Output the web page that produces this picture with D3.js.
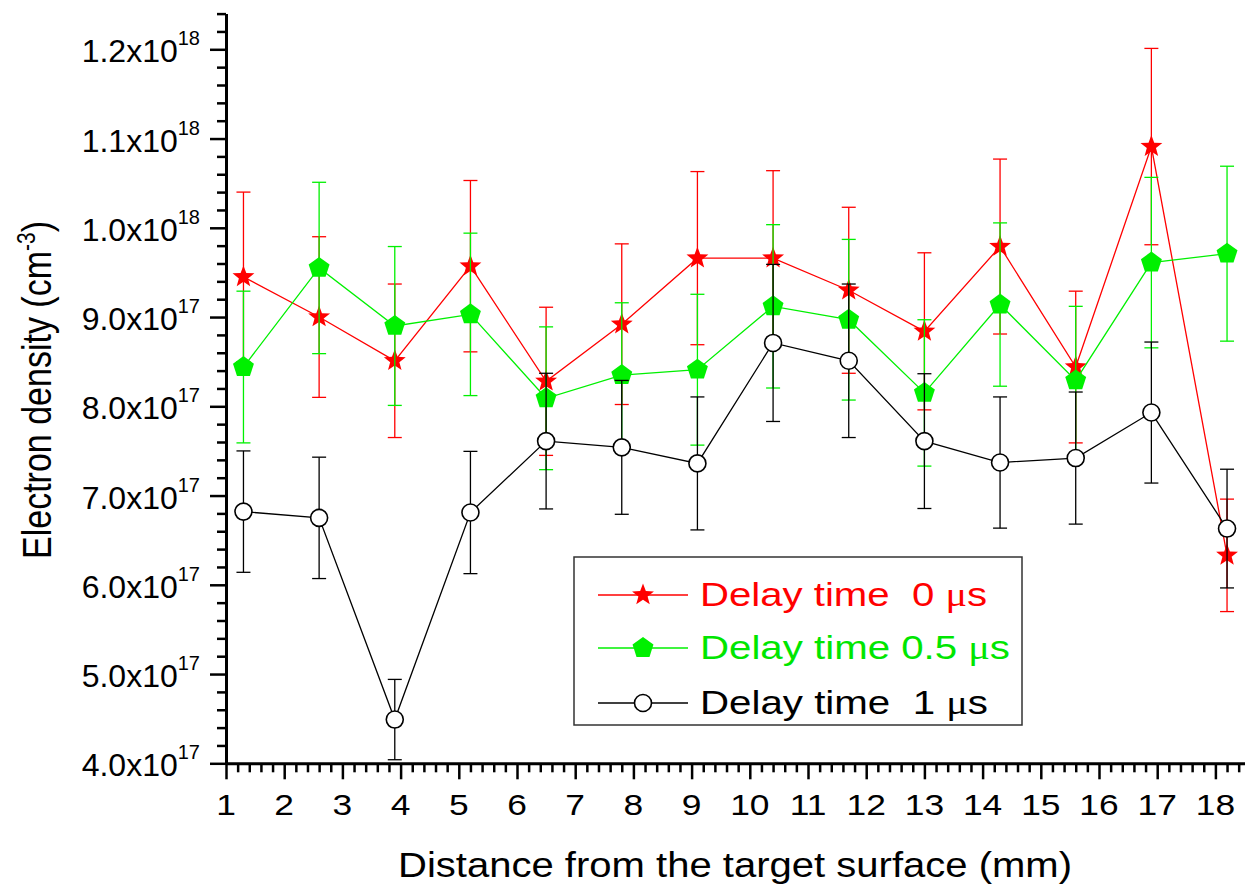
<!DOCTYPE html>
<html>
<head>
<meta charset="utf-8">
<script src="https://cdn.jsdelivr.net/npm/d3@7"></script>
<style>
  html, body { margin: 0; padding: 0; background: #fff; }
  svg { display: block; font-family: "Liberation Sans", Arial, sans-serif; }
</style>
</head>
<body>
<svg id="chart" width="1253" height="893"></svg>
<script>
// ---------------- DATA ----------------
const distance = [1.3, 2.6, 3.9, 5.2, 6.5, 7.8, 9.1, 10.4, 11.7, 13.0, 14.3, 15.6, 16.9, 18.2]; // mm

// Electron density (cm^-3)
const density0us  = [9.45e17, 9.00e17, 8.51e17, 9.57e17, 8.28e17, 8.92e17, 9.66e17, 9.66e17, 9.30e17, 8.84e17, 9.79e17, 8.44e17, 10.91e17, 6.33e17];
const error0us    = [0.95e17, 0.90e17, 0.86e17, 0.96e17, 0.83e17, 0.90e17, 0.97e17, 0.98e17, 0.93e17, 0.88e17, 0.98e17, 0.85e17, 1.10e17, 0.63e17];

const density05us = [8.44e17, 9.55e17, 8.90e17, 9.03e17, 8.09e17, 8.35e17, 8.41e17, 9.12e17, 8.97e17, 8.15e17, 9.14e17, 8.29e17, 9.61e17, 9.71e17];
const error05us   = [0.85e17, 0.96e17, 0.89e17, 0.91e17, 0.80e17, 0.81e17, 0.845e17, 0.915e17, 0.90e17, 0.82e17, 0.915e17, 0.83e17, 0.955e17, 0.98e17];

const density1us  = [6.82e17, 6.75e17, 4.49e17, 6.81e17, 7.61e17, 7.54e17, 7.36e17, 8.71e17, 8.51e17, 7.61e17, 7.37e17, 7.42e17, 7.93e17, 6.63e17];
const error1us    = [0.68e17, 0.68e17, 0.45e17, 0.685e17, 0.76e17, 0.75e17, 0.745e17, 0.88e17, 0.86e17, 0.755e17, 0.735e17, 0.74e17, 0.79e17, 0.665e17];

const seriesNames = ["Delay time  0 \u03bcs", "Delay time 0.5 \u03bcs", "Delay time  1 \u03bcs"];

// Axis ticks
const xTickValues = [1,2,3,4,5,6,7,8,9,10,11,12,13,14,15,16,17,18];
const xTickLabels = ["1","2","3","4","5","6","7","8","9","10","11","12","13","14","15","16","17","18"];
const yTickValues = [4e17, 5e17, 6e17, 7e17, 8e17, 9e17, 1.0e18, 1.1e18, 1.2e18];
const yTickMantissa = ["4.0","5.0","6.0","7.0","8.0","9.0","1.0","1.1","1.2"];
const yTickExponent = ["17","17","17","17","17","17","18","18","18"];

const xTitle = "Distance from the target surface (mm)";
const yTitle = "Electron density (cm";

// ---------------- CHART ----------------
const svg = d3.select("#chart");
const x = d3.scaleLinear().domain([1, 18.5]).range([226, 1244.5]);
const y = d3.scaleLinear().domain([4e17, 1.24e18]).range([763.3, 13.6]);

const RED = "#ff0000", GREEN = "#00f000", BLACK = "#000000";

// minor ticks
const xMinor = d3.range(1, 18.41, 0.2).filter(v => Math.abs(v - Math.round(v)) > 1e-6);
const yMinor = d3.range(4e17, 1.2401e18, 0.2e17).filter(v => Math.abs(v/1e17 - Math.round(v/1e17)) > 1e-6);

function styleAxis(g, w) {
  g.selectAll("path.domain").attr("stroke", "#000").attr("stroke-width", 3);
  g.selectAll(".tick line").attr("stroke", "#000").attr("stroke-width", w);
  g.selectAll(".tick text").remove();
}

svg.append("g").attr("transform", "translate(0,763.3)")
  .call(d3.axisBottom(x).tickValues(xMinor).tickSize(9).tickSizeOuter(0).tickFormat(""))
  .call(g => { styleAxis(g, 2.5); g.select("path.domain").remove(); });
svg.append("g").attr("transform", "translate(226,0)")
  .call(d3.axisLeft(y).tickValues(yMinor).tickSize(9).tickSizeOuter(0).tickFormat(""))
  .call(g => { styleAxis(g, 2.5); g.select("path.domain").remove(); });

svg.append("g").attr("transform", "translate(0,763.3)")
  .call(d3.axisBottom(x).tickValues(xTickValues).tickSize(16).tickSizeOuter(0).tickFormat(""))
  .call(g => styleAxis(g, 2.5));
svg.append("g").attr("transform", "translate(226,0)")
  .call(d3.axisLeft(y).tickValues(yTickValues).tickSize(16).tickSizeOuter(0).tickFormat(""))
  .call(g => styleAxis(g, 2.5));

// x tick labels
svg.append("g").selectAll("text").data(xTickValues).join("text")
  .attr("transform", d => `translate(${x(d)},815) scale(1.22,1)`)
  .attr("text-anchor", "middle")
  .attr("font-size", 29)
  .attr("fill", "#000")
  .text((d, i) => xTickLabels[i]);

// y tick labels with superscript
const yl = svg.append("g").selectAll("text").data(yTickValues).join("text")
  .attr("x", 200)
  .attr("y", d => y(d) + 13)
  .attr("text-anchor", "end")
  .attr("font-size", 32)
  .attr("fill", "#000");
yl.append("tspan").text((d, i) => yTickMantissa[i] + "x10");
yl.append("tspan").attr("dy", -17).attr("font-size", 20).text((d, i) => yTickExponent[i]);

// axis titles
svg.append("text")
  .attr("x", 735).attr("y", 877)
  .attr("text-anchor", "middle")
  .attr("font-size", 35)
  .attr("textLength", 674)
  .attr("lengthAdjust", "spacingAndGlyphs")
  .attr("fill", "#000")
  .text(xTitle);

const yt = svg.append("text")
  .attr("transform", "translate(51,390) scale(1.2,1) rotate(-90)")
  .attr("text-anchor", "middle")
  .attr("font-size", 34)
  .attr("fill", "#000");
yt.append("tspan").text(yTitle);
yt.append("tspan").attr("dy", -13).attr("font-size", 21).text("-3");
yt.append("tspan").attr("dy", 13).text(")");

// marker shapes
function starPath(r) {
  const pts = [];
  for (let i = 0; i < 10; i++) {
    const rr = i % 2 === 0 ? r : r * 0.42;
    const a = -Math.PI / 2 + i * Math.PI / 5;
    pts.push([rr * Math.cos(a), rr * Math.sin(a)]);
  }
  return "M" + pts.map(p => p.join(",")).join("L") + "Z";
}
function pentaPath(r) {
  const pts = [];
  for (let i = 0; i < 5; i++) {
    const a = -Math.PI / 2 + i * 2 * Math.PI / 5;
    pts.push([r * Math.cos(a), r * Math.sin(a)]);
  }
  return "M" + pts.map(p => p.join(",")).join("L") + "Z";
}

const series = [
  { vals: density0us,  errs: error0us,  color: RED,   marker: "star" },
  { vals: density05us, errs: error05us, color: GREEN, marker: "penta" },
  { vals: density1us,  errs: error1us,  color: BLACK, marker: "circle" }
];

const line = d3.line().x(d => x(d[0])).y(d => y(d[1]));

function drawMarker(g, type, color) {
  if (type === "star") g.append("path").attr("d", starPath(11.5)).attr("fill", color);
  else if (type === "penta") g.append("path").attr("d", pentaPath(11)).attr("fill", color);
  else g.append("circle").attr("r", 8.5).attr("fill", "#fff").attr("stroke", color).attr("stroke-width", 1.6);
}

series.forEach(s => {
  const g = svg.append("g");
  const pts = distance.map((d, i) => [d, s.vals[i], s.errs[i]]);
  // error bars
  const eb = g.append("g").attr("stroke", s.color).attr("stroke-width", 1.3).attr("fill", "none");
  pts.forEach(p => {
    eb.append("line").attr("x1", x(p[0])).attr("x2", x(p[0])).attr("y1", y(p[1] - p[2])).attr("y2", y(p[1] + p[2]));
    eb.append("line").attr("x1", x(p[0]) - 7).attr("x2", x(p[0]) + 7).attr("y1", y(p[1] + p[2])).attr("y2", y(p[1] + p[2]));
    eb.append("line").attr("x1", x(p[0]) - 7).attr("x2", x(p[0]) + 7).attr("y1", y(p[1] - p[2])).attr("y2", y(p[1] - p[2]));
  });
  g.append("path").datum(pts).attr("d", line).attr("fill", "none").attr("stroke", s.color).attr("stroke-width", 1.3);
  pts.forEach(p => {
    const mg = g.append("g").attr("transform", `translate(${x(p[0])},${y(p[1])})`);
    drawMarker(mg, s.marker, s.color);
  });
});

// legend
const lg = svg.append("g");
lg.append("rect").attr("x", 574).attr("y", 557).attr("width", 448).attr("height", 168)
  .attr("fill", "#fff").attr("stroke", "#333").attr("stroke-width", 1.5);
const legendY = [595, 648, 703];
const legendW = [287, 310, 288];
series.forEach((s, i) => {
  const row = lg.append("g").attr("transform", `translate(0,${legendY[i]})`);
  row.append("line").attr("x1", 598).attr("x2", 688).attr("y1", 0).attr("y2", 0)
    .attr("stroke", s.color).attr("stroke-width", 1.3);
  const mg = row.append("g").attr("transform", "translate(643,0)");
  drawMarker(mg, s.marker, s.color);
  const parts = seriesNames[i].split("\u03bc");
  const t = row.append("text").attr("x", 700).attr("y", 11)
    .attr("font-size", 34)
    .attr("fill", s.color === GREEN ? "#00e600" : s.color)
    .attr("textLength", legendW[i])
    .attr("lengthAdjust", "spacingAndGlyphs")
    .attr("xml:space", "preserve")
    .style("white-space", "pre");
  t.append("tspan").text(parts[0]);
  t.append("tspan").attr("font-family", "'Liberation Serif', 'DejaVu Serif', serif").text("\u03bc");
  t.append("tspan").text(parts[1]);
});
</script>
</body>
</html>
